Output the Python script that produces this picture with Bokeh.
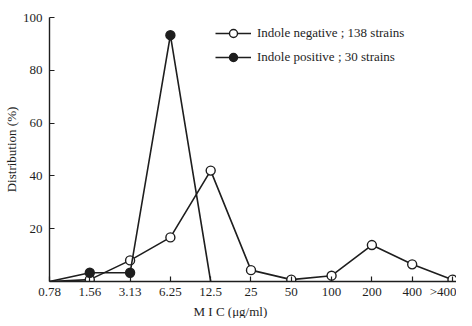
from bokeh.plotting import figure
from bokeh.models import Range1d, FixedTicker, Legend, LegendItem, ColumnDataSource, Title
from bokeh.embed import file_html
from bokeh.resources import INLINE

categories = ["0.78", "1.56", "3.13", "6.25", "12.5", "25", "50", "100", "200", "400", ">400"]
negative = [0, 0.7, 8.0, 16.7, 42.0, 4.3, 0.7, 2.2, 13.8, 6.5, 0.7]
positive = [0, 3.3, 3.3, 93.3, 0]
y_ticks = [20, 40, 60, 80, 100]

FONT = "Liberation Serif"
INK = "#1e1e1e"

xs = list(range(len(categories)))

p = figure(width=456, height=318, output_backend="svg", toolbar_location=None,
           x_range=Range1d(0, 10.1), y_range=Range1d(0, 100),
           min_border_left=49, min_border_right=0, min_border_top=17, min_border_bottom=30)
p.outline_line_color = None
p.grid.visible = False
p.background_fill_color = "white"
p.border_fill_color = "white"

neg_src = ColumnDataSource(dict(x=xs, y=negative))
neg_mk = ColumnDataSource(dict(x=xs[1:], y=negative[1:]))
pos_src = ColumnDataSource(dict(x=xs[:len(positive)], y=positive))
pos_mk = ColumnDataSource(dict(x=xs[1:4], y=positive[1:4]))

nl = p.line("x", "y", source=neg_src, line_color=INK, line_width=1.6)
ns = p.scatter("x", "y", source=neg_mk, marker="circle", size=9,
               fill_color="white", line_color=INK, line_width=1.4)
pl = p.line("x", "y", source=pos_src, line_color=INK, line_width=1.6)
ps = p.scatter("x", "y", source=pos_mk, marker="circle", size=9,
               fill_color=INK, line_color=INK, line_width=1.4)

p.xaxis.ticker = FixedTicker(ticks=xs)
p.xaxis.major_label_overrides = {i: c for i, c in enumerate(categories)}
p.yaxis.ticker = FixedTicker(ticks=y_ticks)
for ax in (p.xaxis[0], p.yaxis[0]):
    ax.major_tick_in = 5
    ax.major_tick_out = 0
    ax.minor_tick_line_color = None
    ax.axis_line_color = INK
    ax.axis_line_width = 1.4
    ax.major_tick_line_color = INK
    ax.major_tick_line_width = 1.2
    ax.major_label_text_font = FONT
    ax.major_label_text_font_size = "13px"
    ax.major_label_text_color = INK
    ax.axis_label_text_font = FONT
    ax.axis_label_text_font_style = "normal"
    ax.axis_label_text_color = INK

p.xaxis.major_label_standoff = 2
p.yaxis.major_label_standoff = 7
p.yaxis.axis_label = "Distribution (%)"
p.yaxis.axis_label_text_font_size = "13px"
p.yaxis.axis_label_standoff = 1

# x-axis title as a panel below the axis, shifted to sit as in the reference
xtitle = Title(text="M  I  C   (\u03bcg/ml)", align="left", offset=144,
               text_font=FONT, text_font_size="13px", text_font_style="normal",
               text_color=INK, standoff=0)
p.add_layout(xtitle, "below")

legend = Legend(items=[
    LegendItem(label="Indole negative ; 138 strains", renderers=[nl, ns]),
    LegendItem(label="Indole positive ; 30 strains", renderers=[pl, ps]),
], location=(166, 214), orientation="vertical")
legend.border_line_color = None
legend.background_fill_alpha = 0
legend.padding = 0
legend.margin = 0
legend.spacing = 4
legend.glyph_width = 36
legend.glyph_height = 20
legend.label_height = 20
legend.label_standoff = 6
legend.label_text_font = FONT
legend.label_text_font_size = "13px"
legend.label_text_color = INK
p.add_layout(legend)

open("out.html", "w").write(file_html(p, INLINE))
